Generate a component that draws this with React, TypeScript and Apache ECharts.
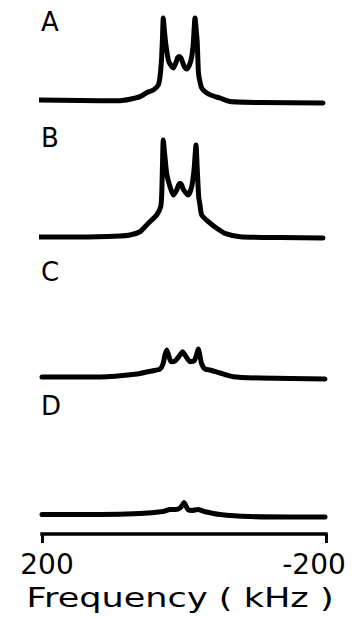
import React, { useEffect, useRef } from 'react';
import * as echarts from 'echarts';

// Frequency axis (kHz)
const frequencyTicks = [200, -200];
const panelLabels = ['A', 'B', 'C', 'D'];
const axisTitle = 'Frequency ( kHz )';

// Spectrum A
const freqA = [205.6, 146.5, 90.1, 76.1, 62.0, 52.5, 43.2, 36.2, 33.8, 31.7, 30.3, 29.2, 27.7, 25.8, 22.1, 19.7, 15.1, 11.0, 9.2, 6.6, 4.2, 2.1, -0.7, -3.8, -7.7, -10.8, -13.1, -15.5, -17.2, -18.7, -20.1, -21.1, -24.9, -32.0, -41.3, -50.7, -64.8, -107.0, -195.8];
const intA = [4, 3.5, 3.3, 4.7, 7.3, 11.3, 14, 19, 27.3, 44, 66, 86, 74, 61, 44, 40, 36, 42, 46, 47.5, 46, 42, 37, 35, 39, 47, 61, 86, 74, 61, 34, 27.3, 16, 11, 8, 6, 2.5, 1.5, 1];

// Spectrum B
const freqB = [205.6, 146.5, 90.1, 76.1, 62.0, 54.9, 45.5, 38.5, 32.8, 31.4, 30.3, 29.2, 27.5, 24.4, 19.7, 15.1, 10.3, 7.7, 5.6, 3.2, 1.0, -6.1, -10.8, -14.1, -16.9, -18.7, -20.7, -22.5, -24.9, -34.2, -46.1, -57.7, -78.9, -135.2, -195.8];
const intB = [4, 4, 5, 6, 9.3, 14.3, 21, 26, 34.3, 46, 76, 101, 89, 67.7, 54.3, 46, 51, 56, 57.7, 56, 51.7, 46, 54.3, 71, 96, 71, 44.3, 36, 26, 19.3, 12.7, 7.7, 4.3, 3.5, 3];

// Spectrum C
const freqC = [200, 118.3, 66.2, 43.7, 33.8, 29.6, 26.8, 24.4, 21.8, 18.3, 12.7, 5.6, 1.8, -1.4, -8.5, -14.1, -17.6, -20.1, -22.5, -24.9, -29.6, -36.6, -50.7, -69.0, -107.0, -198.6];
const intC = [5, 5, 8, 11.3, 13, 18, 27, 32, 27, 20.3, 21, 27, 30.3, 27, 20.3, 21, 27, 33, 26, 18, 13, 12, 9, 5.3, 4, 3];

// Spectrum D
const freqD = [200, 118.3, 62.0, 29.6, 19.7, 11.3, 5.6, 2.1, 0, -2.1, -5.6, -11.3, -19.7, -28.2, -50.7, -93.0, -149.3, -198.6];
const intD = [3.5, 3.5, 4.5, 6.5, 8.5, 8.5, 10, 13, 15.5, 13, 8.5, 7.5, 8.5, 6.5, 3.5, 1.5, 1, 1];

const spectra = [
  { f: freqA, v: intA },
  { f: freqB, v: intB },
  { f: freqC, v: intC },
  { f: freqD, v: intD },
];

const FONT = '"DejaVu Sans", "Liberation Sans", sans-serif';

export default function App() {
  const ref = useRef<HTMLDivElement>(null);

  useEffect(() => {
    document.body.style.margin = '0';
    const chart = echarts.init(ref.current as HTMLDivElement, null, { renderer: 'svg' });

    const gridTops = [4, 141, 282, 418];
    const labelMids = [22, 137.5, 271.5, 405.5];
    // the last grid extends below its baseline down to the frequency axis
    const yMins = [0, 0, 0, -16];

    const grids = gridTops.map((t, i) => ({ left: 42, right: 35, top: t, height: 100 - yMins[i] }));

    const xAxes: any[] = gridTops.map((_, i) => {
      const base: any = {
        type: 'value',
        gridIndex: i,
        min: -200,
        max: 200,
        inverse: true,
        show: false,
        splitLine: { show: false },
      };
      if (i === 3) {
        base.show = true;
        base.position = 'bottom';
        base.axisLine = { show: true, onZero: false, lineStyle: { color: '#000', width: 3.5, cap: 'square' } };
        base.axisTick = {
          show: true,
          customValues: frequencyTicks,
          length: 9,
          inside: false,
          lineStyle: { color: '#000', width: 3 },
        };
        base.axisLabel = {
          show: true,
          customValues: frequencyTicks,
          margin: 16,
          color: '#000',
          fontSize: 28,
          fontFamily: FONT,
          formatter: (val: number) => (val > 0 ? '{l|' + val + '}' : '{r|' + val + '}'),
          rich: {
            l: { fontSize: 28, fontFamily: FONT, color: '#000', padding: [0, 0, 0, 10] },
            r: { fontSize: 28, fontFamily: FONT, color: '#000', padding: [0, 24, 0, 0] },
          },
        };
      }
      return base;
    });

    const yAxes = gridTops.map((_, i) => ({
      type: 'value',
      gridIndex: i,
      min: yMins[i],
      max: 100,
      show: false,
      splitLine: { show: false },
    }));

    const series = spectra.map((s, i) => ({
      type: 'line',
      xAxisIndex: i,
      yAxisIndex: i,
      data: s.f.map((f, k) => [f, s.v[k]]),
      showSymbol: false,
      symbol: 'none',
      clip: false,
      smooth: 0.2,
      lineStyle: { color: '#000', width: 5, cap: 'round', join: 'round' },
      silent: true,
    }));

    const graphics: any[] = panelLabels.map((lab, i) => ({
      type: 'text',
      x: 41,
      y: labelMids[i],
      style: {
        text: lab,
        font: '26px ' + FONT,
        fill: '#000',
        textAlign: 'left',
        textVerticalAlign: 'middle',
      },
    }));
    graphics.push({
      type: 'text',
      x: 180,
      y: 597.5,
      scaleX: 1.3,
      style: {
        text: axisTitle,
        font: '27px ' + FONT,
        fill: '#000',
        textAlign: 'center',
        textVerticalAlign: 'middle',
      },
    });

    chart.setOption({
      animation: false,
      backgroundColor: '#fff',
      grid: grids,
      xAxis: xAxes,
      yAxis: yAxes,
      series,
      graphic: graphics,
    });

    return () => chart.dispose();
  }, []);

  return <div ref={ref} style={{ width: 361, height: 619 }} />;
}
